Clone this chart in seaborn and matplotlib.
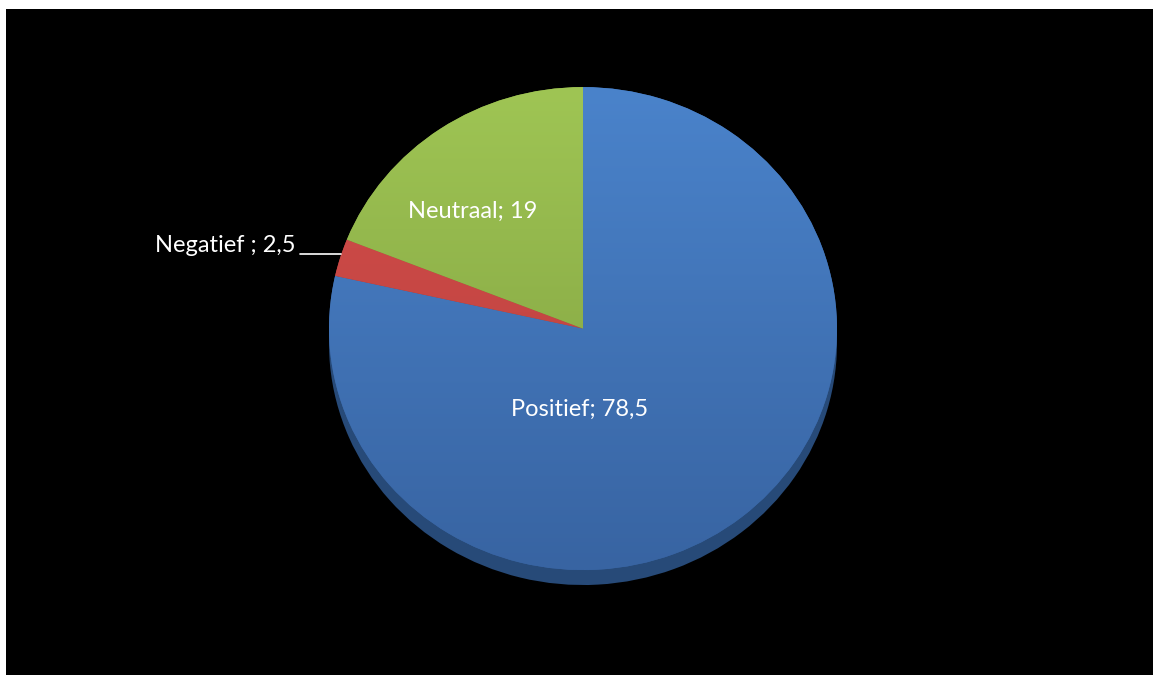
import numpy as np
import matplotlib.pyplot as plt
import matplotlib.colors as mcolors
import seaborn as sns
from matplotlib.patches import Rectangle

# data
labels = ['Positief', 'Negatief ', 'Neutraal']
values = [78.5, 2.5, 19]
value_text = ['78,5', '2,5', '19']

# colours (top of gradient, bottom of gradient, 3d side)
top_colors = ['#4A83CB', '#D44E4B', '#9FC554']
bottom_colors = ['#3864A2', '#B63F3C', '#7D9C3E']
side_colors = ['#274A78', '#7E2B29', '#57702A']

sns.set_theme(style='white')
plt.rcParams['font.family'] = ['Lato', 'DejaVu Sans']

fig = plt.figure(figsize=(11.53, 6.75), dpi=100, facecolor='white')

# black slide background with the thin white margin top/left
bg = fig.add_axes([0, 0, 1, 1], zorder=-1)
bg.axis('off')
bg.add_patch(Rectangle((6 / 1153, 0), 1, (675 - 9) / 675,
                       transform=bg.transAxes, facecolor='black', edgecolor='none'))

ax = fig.add_axes([329 / 1153, 0.1197, 508 / 1153, 0.7513], zorder=1)
ax.set_facecolor('none')
ax.axis('off')

# 3d side: same pie shifted down a little, darker
side, _ = ax.pie(values, colors=side_colors, startangle=90, counterclock=False,
                 center=(0, -0.062), wedgeprops=dict(linewidth=0))
for w in side:
    w.set_zorder(1)

wedges, _ = ax.pie(values, colors=bottom_colors, startangle=90, counterclock=False,
                   wedgeprops=dict(linewidth=0))

grad = np.linspace(0, 1, 256).reshape(-1, 1)
for w, c1, c2 in zip(wedges, top_colors, bottom_colors):
    w.set_zorder(2)
    cmap = mcolors.LinearSegmentedColormap.from_list('g', [c1, c2])
    im = ax.imshow(grad, extent=(-1, 1, -1, 1), origin='upper', cmap=cmap,
                   aspect='auto', zorder=3)
    im.set_clip_path(w)

ax.set_aspect('auto')
ax.set_xlim(-1, 1)
ax.set_ylim(-1.1, 1.0)

fs = 17
# inside labels
ax.text(-0.012, -0.333, f'{labels[0]}; {value_text[0]}', color='white',
        fontsize=fs, ha='center', va='center', zorder=5)
ax.text(-0.433, 0.487, f'{labels[2]}; {value_text[2]}', color='white',
        fontsize=fs, ha='center', va='center', zorder=5)

# outside label with leader line
neg = wedges[1]
ang = np.deg2rad(neg.theta1 + 0.4 * (neg.theta2 - neg.theta1))
px, py = np.cos(ang), np.sin(ang)
ax.plot([-1.114, px], [py, py], color='white', linewidth=1.2,
        clip_on=False, zorder=5)
ax.text(-1.13, py + 0.035, f'{labels[1]}; {value_text[1]}', color='white',
        fontsize=fs, ha='right', va='center', zorder=5)

fig.savefig('out.png', dpi=100, facecolor=fig.get_facecolor())
